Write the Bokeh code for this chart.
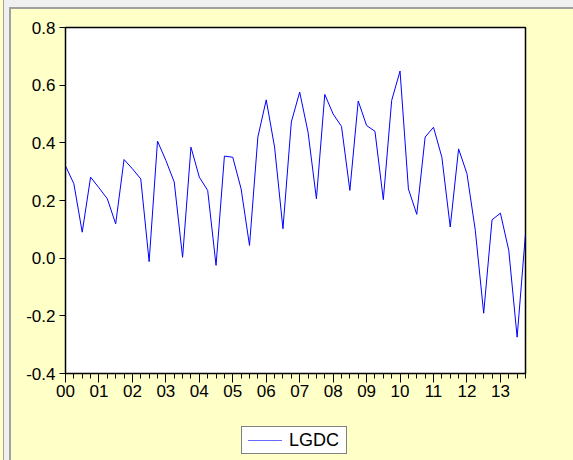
from bokeh.plotting import figure
from bokeh.layouts import column
from bokeh.models import FixedTicker, PrintfTickFormatter, Range1d, Div, GlobalInlineStyleSheet
from bokeh.embed import file_html
from bokeh.resources import INLINE

# Quarterly series 2000Q1 .. 2013Q4
series_name = "LGDC"
years = ["00", "01", "02", "03", "04", "05", "06", "07", "08", "09", "10", "11", "12", "13"]
quarters_per_year = 4
lgdc = [0.32, 0.258, 0.09, 0.281, 0.244, 0.206, 0.119, 0.342, 0.31, 0.275,
        -0.012, 0.406, 0.339, 0.264, 0.003, 0.385, 0.281, 0.235, -0.025, 0.354,
        0.35, 0.24, 0.044, 0.42, 0.549, 0.385, 0.102, 0.472, 0.576, 0.437,
        0.206, 0.568, 0.5, 0.457, 0.235, 0.545, 0.46, 0.44, 0.203, 0.547,
        0.649, 0.24, 0.152, 0.42, 0.454, 0.35, 0.108, 0.379, 0.293, 0.096,
        -0.191, 0.133, 0.156, 0.027, -0.274, 0.085]
y_ticks = [-0.4, -0.2, 0.0, 0.2, 0.4, 0.6, 0.8]

idx = list(range(len(lgdc)))
year_ticks = [i * quarters_per_year for i in range(len(years))]

YELLOW = "#FFFFC8"
LINE = "#0000FF"
FONT = "Liberation Sans"

p = figure(frame_width=460, frame_height=346, output_backend="svg", toolbar_location=None,
           x_range=Range1d(0, len(lgdc) - 1), y_range=Range1d(y_ticks[0], y_ticks[-1]),
           min_border_left=54, min_border_right=48, min_border_top=18, min_border_bottom=33)

p.border_fill_color = YELLOW
p.background_fill_color = "white"
p.outline_line_color = "black"
p.outline_line_width = 1.5
p.grid.visible = False

r = p.line(idx, lgdc, line_color=LINE, line_width=1)

xa = p.xaxis[0]
xa.ticker = FixedTicker(ticks=year_ticks, minor_ticks=idx)
xa.major_label_overrides = {t: lab for t, lab in zip(year_ticks, years)}
xa.major_tick_out = 9
xa.major_tick_in = 0
xa.minor_tick_out = 5
xa.minor_tick_in = 0
xa.major_label_standoff = 2

ya = p.yaxis[0]
ya.ticker = FixedTicker(ticks=y_ticks)
ya.formatter = PrintfTickFormatter(format="%.1f")
ya.major_tick_out = 6
ya.major_tick_in = 0
ya.minor_tick_out = 0
ya.minor_tick_in = 0
ya.major_label_standoff = 4

for ax in (xa, ya):
    ax.axis_line_color = "black"
    ax.major_tick_line_color = "black"
    ax.minor_tick_line_color = "black"
    ax.major_label_text_font = FONT
    ax.major_label_text_font_size = "17px"
    ax.major_label_text_color = "black"

legend_html = (
    '<div style="position:absolute; left:225px; top:15px; width:106px; height:28px; '
    'box-sizing:border-box; border:1px solid #808080; background:white;">'
    '<div style="position:absolute; left:6px; top:13px; width:34px; height:0; '
    'border-top:1px solid #6A6AFF;"></div>'
    '<span style="position:absolute; left:47px; top:0px; line-height:27px; '
    f"font-family:'{FONT}'; font-size:18px; color:black; white-space:nowrap;\">{series_name}</span>"
    '</div>'
)
legend_div = Div(text=legend_html, width=562, height=54,
                 styles={"background-color": YELLOW, "position": "relative", "overflow": "visible"})

layout = column(p, legend_div, spacing=0)
layout.styles = {"margin-left": "9px", "margin-top": "7px",
                 "border-left": "2px solid #A0A0A0", "border-top": "2px solid #A0A0A0",
                 "background-color": YELLOW}
layout.stylesheets = [GlobalInlineStyleSheet(css=(
    "html, body { margin: 0; padding: 0; }"
    "body { background: linear-gradient(to right, #FFFFC8 0px, #FFFFC8 3px, "
    "#A0A0A0 3px, #A0A0A0 4px, #F0F0F0 4px); }"))]

open("out.html", "w").write(file_html(layout, INLINE))
